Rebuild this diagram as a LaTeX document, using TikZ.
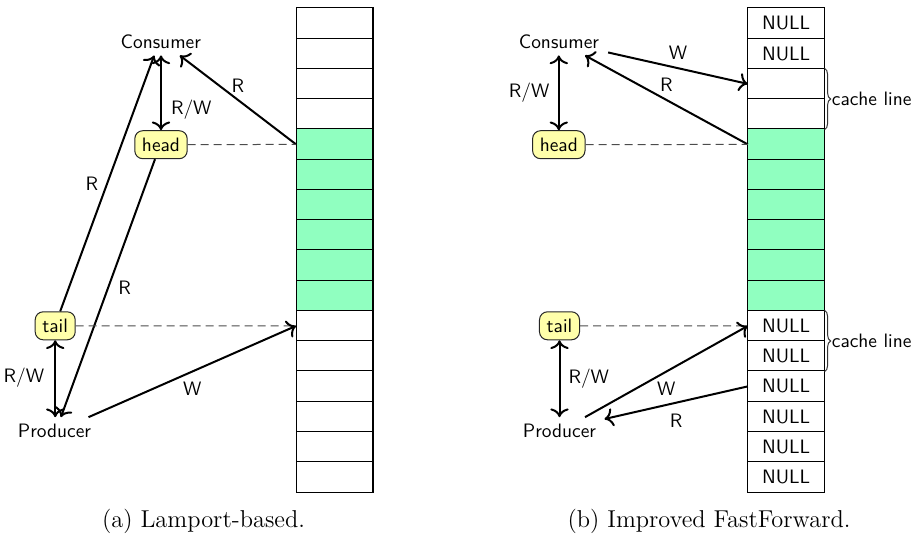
\documentclass[tikz,border=0pt]{standalone}
\usetikzlibrary{decorations.pathreplacing,arrows.meta}
\definecolor{qgreen}{RGB}{144,255,192}
\definecolor{qyellow}{RGB}{255,255,170}
\begin{document}
\begin{tikzpicture}[x=0.5pt,y=-0.5pt,
  >={To[scale=1.15]},
  lbl/.style={font=\fontsize{9.7}{11.6}\selectfont\sffamily},
  agent/.style={lbl, inner sep=3.3pt},
  lab/.style={lbl, inner sep=1pt},
  ptr/.style={lbl, draw=black!85, line width=0.5pt, fill=qyellow, rounded corners=4pt, inner xsep=3.6pt, inner ysep=0pt, minimum height=14pt},
  cell/.style={lbl, minimum width=38pt, minimum height=15.125pt, inner sep=0pt},
  full/.style={cell, fill=qgreen},
  grid/.style={line width=0.6pt},
  acc/.style={->, line width=1pt},
  both/.style={<->, line width=1pt},
  ref/.style={dash pattern=on 4pt off 2.5pt, line width=0.5pt, draw=black!70},
  cbrace/.style={decorate, decoration={brace, amplitude=3pt}, line width=0.5pt, draw=black!80},
  capt/.style={font=\fontsize{12.2}{14.6}\selectfont},
]
\useasboundingbox (0,0) rectangle (912,537);

% ---------- left array ----------
\foreach \i in {0,...,3}{\node[cell] (L\i) at (334.5,{8.25+30.25*(\i+0.5)}) {};}
\foreach \i in {4,...,9}{\node[full] (L\i) at (334.5,{8.25+30.25*(\i+0.5)}) {};}
\foreach \i in {10,...,15}{\node[cell] (L\i) at (334.5,{8.25+30.25*(\i+0.5)}) {};}
\foreach \i in {1,...,15}{\draw[grid] (L\i.north west) -- (L\i.north east);}
\draw[grid] (L0.north west) rectangle (L15.south east);

% ---------- right array ----------
\foreach \i in {0,1}{\node[cell] (R\i) at (786.2,{8.25+30.25*(\i+0.5)}) {NULL};}
\foreach \i in {2,3}{\node[cell] (R\i) at (786.2,{8.25+30.25*(\i+0.5)}) {};}
\foreach \i in {4,...,9}{\node[full] (R\i) at (786.2,{8.25+30.25*(\i+0.5)}) {};}
\foreach \i in {10,...,15}{\node[cell] (R\i) at (786.2,{8.25+30.25*(\i+0.5)}) {NULL};}
\foreach \i in {1,...,15}{\draw[grid] (R\i.north west) -- (R\i.north east);}
\draw[grid] (R0.north west) rectangle (R15.south east);

% ---------- left diagram ----------
\node[agent] (lc) at (160.8,41.5) {Consumer};
\node[ptr] (lh) at (161,144.7) {head};
\node[ptr] (lt) at (55.2,325.8) {tail};
\node[agent] (lp) at (54.5,431) {Producer};

\draw[both] (lh.north |- lc.south) -- (lh.north) node[lab, pos=0.73, right=3.5pt] {R/W};
\draw[acc] ([xshift=2.5pt]lt.north) -- ([xshift=-3.3pt]lc.south) node[lab, pos=0.5, left=3pt] {R};
\draw[acc] ([xshift=-3pt]lh.south) -- ([xshift=3.2pt]lp.north) node[lab, pos=0.5, right=3.65pt] {R};
\draw[acc] (L4.west) -- ([xshift=9.5pt]lc.south) node[lab, pos=0.5, above=2.4pt] {R};
\draw[both] (lt.south) -- (lt.south |- lp.north) node[lab, pos=0.49, left=4pt] {R/W};
\draw[ref] (lh.east) -- (L4.west);
\draw[ref] (lt.east) -- (L10.west);
\draw[acc] ([xshift=17pt]lp.north) -- (L10.west) node[lab, pos=0.5, below=3.75pt] {W};

% ---------- right diagram ----------
\node[agent] (rc) at (559,41.5) {Consumer};
\node[ptr] (rh) at (558.8,144.7) {head};
\node[ptr] (rt) at (559.5,325.8) {tail};
\node[agent] (rp) at (559.5,431) {Producer};

\draw[both] (rh.north |- rc.south) -- (rh.north) node[lab, pos=0.5, left=3.15pt] {R/W};
\draw[acc] ([xshift=1pt,yshift=1.5pt]rc.south east) -- (R2.west) node[lab, pos=0.5, above=2.75pt] {W};
\draw[acc] (R4.west) -- ([xshift=13pt]rc.south) node[lab, pos=0.5, above=2.6pt] {R};
\draw[ref] (rh.east) -- (R4.west);
\draw[ref] (rt.east) -- (R10.west);
\draw[both] (rt.south) -- (rt.south |- rp.north) node[lab, pos=0.5, right=3pt] {R/W};
\draw[acc] ([xshift=12.75pt]rp.north) -- (R10.west) node[lab, pos=0.5, below=3.85pt] {W};
\draw[acc] (R12.west) -- ([xshift=0.7pt,yshift=6pt]rp.east) node[lab, pos=0.5, below=4.15pt] {R};

% ---------- cache line braces ----------
\draw[cbrace] (R2.north east) -- (R3.south east) node[lbl, midway, anchor=west, xshift=3.4pt, inner sep=0pt] (cl1) {cache line};
\draw[cbrace] (R10.north east) -- (R11.south east) node[lbl, midway, anchor=west, xshift=3.4pt, inner sep=0pt] (cl2) {cache line};

% ---------- captions ----------
\node[capt] (capa) at (203.5,521) {(a) Lamport-based.};
\node[capt] (capb) at (709,521) {(b) Improved FastForward.};
\end{tikzpicture}
\end{document}
